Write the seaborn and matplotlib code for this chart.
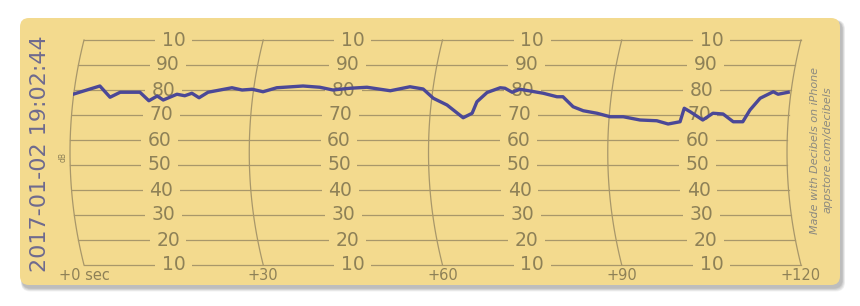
import numpy as np
import pandas as pd
import matplotlib
matplotlib.use("Agg")
import matplotlib.pyplot as plt
from matplotlib.patches import FancyBboxPatch
import seaborn as sns

# ---- data ----
time_s = [0, 4.5, 6.2, 7.9, 11.2, 12.7, 14.1, 15.1, 17.4, 18.7, 19.9, 21.1, 22.6,
          26.6, 28.3, 30.0, 31.8, 34.1, 38.5, 41.3, 43.5, 46.4, 49.2, 53.1, 56.4,
          58.6, 60.3, 62.6, 65.3, 66.8, 67.6, 69.3, 71.5, 72.3, 73.5, 74.8, 76.5,
          78.7, 81.0, 82.0, 83.7, 85.4, 87.7, 89.9, 92.1, 94.9, 97.7, 99.6, 101.6,
          102.3, 103.3, 105.4, 107.1, 108.8, 110.5, 112.1, 113.3, 115.0, 117.2,
          118.0, 119.7]
level_db = [78.3, 81.6, 77.1, 79.1, 79.1, 75.7, 77.6, 76.0, 78.3, 77.7, 78.7, 76.9,
            79.1, 80.9, 80.0, 80.3, 79.3, 80.9, 81.6, 81.1, 80.0, 80.7, 81.1, 79.7,
            81.3, 80.4, 76.7, 74.0, 68.9, 70.7, 75.3, 79.0, 80.9, 80.7, 79.1, 80.3,
            79.6, 78.7, 77.3, 77.3, 73.3, 71.7, 70.7, 69.3, 69.3, 68.0, 67.7, 66.4,
            67.3, 72.7, 71.3, 68.0, 70.7, 70.4, 67.3, 67.3, 72.0, 76.7, 79.3, 78.3,
            79.1]
grid_levels = [100, 90, 80, 70, 60, 50, 40, 30, 20, 10]
grid_labels = ["10", "90", "80", "70", "60", "50", "40", "30", "20", "10"]
time_ticks = [0, 30, 60, 90, 120]
time_labels = ["+0 sec", "+30", "+60", "+90", "+120"]
title_text = "2017-01-02 19:02:44"

# ---- style ----
CARD = "#F3DA8E"
GRID = "#A8976A"
LABEL = "#8E8157"
LINE = "#4B4897"

W, H = 860, 306
fig = plt.figure(figsize=(W / 100, H / 100), dpi=100)
fig.patch.set_facecolor("white")

# card with shadow (figure-level background)
bg = fig.add_axes([0, 0, 1, 1])
bg.set_xlim(0, W); bg.set_ylim(H, 0); bg.axis("off")
for i, a in enumerate([0.05, 0.05, 0.05, 0.06, 0.07]):
    d = 5 - i
    bg.add_patch(FancyBboxPatch((20 + 2 - d * 0.2, 18 + 3 - d * 0.2), 820 + d * 0.8, 267 + d * 0.9,
                                boxstyle="round,pad=0,rounding_size=9",
                                fc="black", ec="none", alpha=a, zorder=0))
bg.add_patch(FancyBboxPatch((20, 18), 820, 267, boxstyle="round,pad=0,rounding_size=9",
                            fc=CARD, ec="none", zorder=1))

bg.text(40, 154, title_text, rotation=90, ha="center", va="center",
        fontsize=16, color="#6E6A8E")
bg.text(63, 157, "dB", rotation=90, ha="center", va="center", fontsize=5.5, color=LABEL)
bg.text(815, 150, "Made with Decibels on iPhone", rotation=90, ha="center", va="center",
        fontsize=8, style="italic", color="#8C8A80")
bg.text(828, 150, "appstore.com/decibels", rotation=90, ha="center", va="center",
        fontsize=8, style="italic", color="#8C8A80")

# data axes: x 0..120 -> px 73..790, y 10..100 -> px 265..40
x0, x1 = 73, 790
ytop, ybot = 40, 265
ax = fig.add_axes([x0 / W, (H - ybot) / H, (x1 - x0) / W, (ybot - ytop) / H])
ax.set_xlim(0, 120)
ax.set_ylim(10, 100)
ax.axis("off")
ax.patch.set_alpha(0)

pxs = 120 / (x1 - x0)  # seconds per px
ymid = 55.0
half = 45.0
sag_px = 14.0
R = (half ** 2 + (sag_px / 2.5) ** 2) / (2 * sag_px / 2.5)  # in dB units

def arc_offset(y):
    # horizontal offset (seconds) of arcs at level y
    yy = np.asarray(y, dtype=float)
    dy = yy - ymid
    sag_db = R - np.sqrt(R ** 2 - dy ** 2)  # in dB units (vertical scale)
    return -0.5 + sag_db * 2.5 * pxs

ys = np.linspace(10, 100, 100)
for t in time_ticks:
    ax.plot(t + arc_offset(ys), ys, color=GRID, lw=0.9, zorder=2, clip_on=False)

for lvl, lab in zip(grid_levels, grid_labels):
    off = float(arc_offset(lvl))
    ax.plot([0 + off, 120 + off], [lvl, lvl], color=GRID, lw=0.9, zorder=2, clip_on=False)
    for k in range(4):
        xc = 30 * k + 15 + off
        ax.text(xc, lvl, lab, ha="center", va="center", fontsize=13.5, color=LABEL,
                zorder=3, clip_on=False,
                bbox=dict(boxstyle="square,pad=0.35", fc=CARD, ec="none"))

for t, lab in zip(time_ticks, time_labels):
    ax.text(t + float(arc_offset(10)), 6, lab, ha="center", va="center",
            fontsize=10.5, color=LABEL, clip_on=False)

df = pd.DataFrame({"t": time_s, "db": level_db})
sns.lineplot(data=df, x="t", y="db", ax=ax, color=LINE, lw=2.4, zorder=5)
ax.set_xlim(0, 120)
ax.set_ylim(10, 100)
ax.axis("off")

fig.savefig("out.png", dpi=100, facecolor="white")
